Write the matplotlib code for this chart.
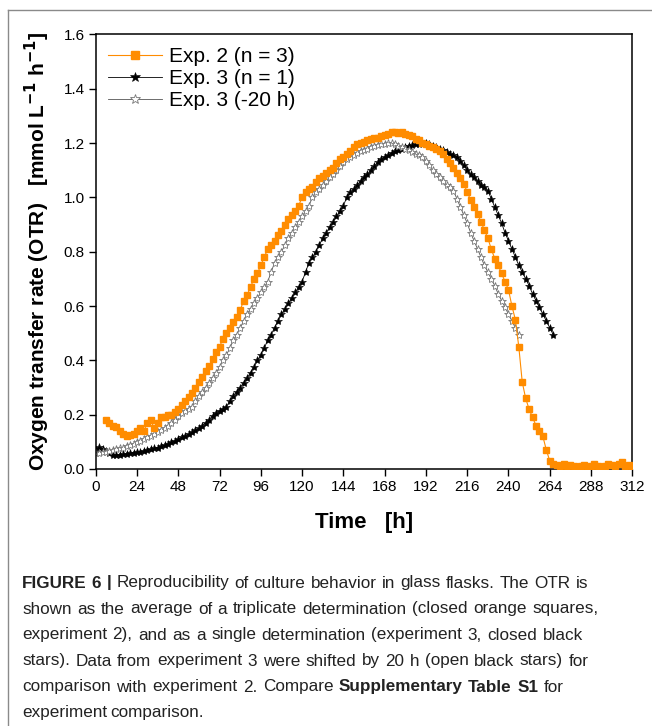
import matplotlib
matplotlib.use("Agg")
import matplotlib.pyplot as plt
from matplotlib.lines import Line2D
import numpy as np

# ---------------- DATA ----------------
# Exp. 2, average of triplicate, every 2 h from 6 h to 312 h
t_exp2 = list(range(6, 313, 2))
otr_exp2 = [
    0.18, 0.17, 0.16, 0.155, 0.14, 0.13, 0.12, 0.125, 0.13, 0.14,
    0.15, 0.14, 0.17, 0.18, 0.15, 0.17, 0.19, 0.19, 0.20, 0.20,
    0.21, 0.22, 0.235, 0.25, 0.265, 0.28, 0.30, 0.32, 0.34, 0.36,
    0.38, 0.405, 0.43, 0.45, 0.48, 0.50, 0.52, 0.54, 0.56, 0.585,
    0.62, 0.64, 0.67, 0.70, 0.72, 0.75, 0.78, 0.81, 0.825, 0.84,
    0.86, 0.875, 0.90, 0.92, 0.935, 0.95, 0.97, 1.00, 1.02, 1.03,
    1.04, 1.055, 1.07, 1.08, 1.09, 1.10, 1.11, 1.125, 1.14, 1.15,
    1.16, 1.17, 1.185, 1.195, 1.20, 1.205, 1.21, 1.215, 1.22, 1.22,
    1.225, 1.23, 1.235, 1.24, 1.24, 1.238, 1.24, 1.235, 1.23, 1.225,
    1.215, 1.21, 1.20, 1.195, 1.19, 1.185, 1.18, 1.17, 1.16, 1.14,
    1.125, 1.11, 1.09, 1.07, 1.05, 1.02, 0.99, 0.965, 0.94, 0.91,
    0.88, 0.85, 0.81, 0.775, 0.75, 0.72, 0.69, 0.66, 0.60, 0.55,
    0.45, 0.32, 0.26, 0.22, 0.19, 0.16, 0.14, 0.12, 0.07, 0.03,
    0.02, 0.015, 0.01, 0.02, 0.01, 0.015, 0.01, 0.005, 0.01, 0.015,
    0.005, 0.01, 0.02, 0.01, 0.005, 0.01, 0.02, 0.015, 0.01, 0.02,
    0.025, 0.01, 0.015, 0.01,
]

# Exp. 3, single determination, every 2 h from 0 h to 266 h
t_exp3 = list(range(0, 267, 2))
otr_exp3 = [
    0.07, 0.082, 0.075, 0.065, 0.058, 0.052, 0.050, 0.052, 0.054, 0.055,
    0.058, 0.060, 0.062, 0.064, 0.067, 0.070, 0.073, 0.076, 0.079, 0.083,
    0.088, 0.093, 0.098, 0.104, 0.110, 0.116, 0.122, 0.128, 0.135, 0.142,
    0.150, 0.160, 0.170, 0.182, 0.196, 0.207, 0.215, 0.222, 0.230, 0.250,
    0.270, 0.285, 0.300, 0.318, 0.335, 0.355, 0.375, 0.400, 0.420, 0.445,
    0.475, 0.495, 0.520, 0.545, 0.570, 0.590, 0.610, 0.630, 0.650, 0.670,
    0.690, 0.725, 0.760, 0.780, 0.800, 0.825, 0.850, 0.870, 0.890, 0.910,
    0.930, 0.950, 0.970, 1.000, 1.020, 1.030, 1.045, 1.060, 1.075, 1.085,
    1.100, 1.115, 1.130, 1.140, 1.150, 1.155, 1.165, 1.170, 1.175, 1.180,
    1.187, 1.190, 1.192, 1.195, 1.198, 1.200, 1.200, 1.195, 1.190, 1.185,
    1.180, 1.175, 1.168, 1.160, 1.155, 1.150, 1.135, 1.120, 1.100, 1.085,
    1.075, 1.060, 1.045, 1.040, 1.025, 0.995, 0.965, 0.935, 0.905, 0.870,
    0.840, 0.810, 0.780, 0.750, 0.725, 0.700, 0.675, 0.645, 0.620, 0.595,
    0.570, 0.545, 0.520, 0.495,
]
shift_h = 20

x_ticks = list(range(0, 313, 24))
y_ticks = [0.0, 0.2, 0.4, 0.6, 0.8, 1.0, 1.2, 1.4, 1.6]

labels = ["Exp. 2 (n = 3)", "Exp. 3 (n = 1)", "Exp. 3 (-20 h)"]

caption_lines = [
    [("FIGURE 6 |", "bold"), ("Reproducibility of culture behavior in glass flasks. The OTR is", "normal")],
    [("shown as the average of a triplicate determination (closed orange squares,", "normal")],
    [("experiment 2), and as a single determination (experiment 3, closed black", "normal")],
    [("stars). Data from experiment 3 were shifted by 20 h (open black stars) for", "normal")],
    [("comparison with experiment 2. Compare", "normal"), ("Supplementary Table S1", "bold"), ("for", "normal")],
    [("experiment comparison.", "normal")],
]
# right end (px) of each caption line in the reference, None = natural width
caption_ends = [588, 632, 610, 603, 607, None]

# ---------------- PLOT ----------------
plt.rcParams['font.family'] = ['Liberation Sans', 'DejaVu Sans']

fig = plt.figure(figsize=(6.52, 7.26), dpi=100)
ax = fig.add_axes([0.1468, 0.354, 0.823, 0.5985])

t3 = np.array(t_exp3, dtype=float)
v3 = np.array(otr_exp3)
mask = t3 >= shift_h

orange = "#FF8C00"
ax.plot(t_exp2, otr_exp2, color=orange, lw=0.8, marker="s", ms=5,
        mec=orange, mfc=orange, label=labels[0], zorder=3)
ax.plot(t3, v3, color="black", lw=0.6, marker="*", ms=6,
        mec="black", mfc="black", mew=0.4, label=labels[1], zorder=2)
ax.plot(t3[mask] - shift_h, v3[mask], color="#555555", lw=0.6, marker="*",
        ms=6, mec="#777777", mfc="white", mew=0.6, label=labels[2], zorder=2)

ax.set_xlim(0, 312)
ax.set_ylim(0, 1.6)
ax.set_xticks(x_ticks)
ax.set_yticks(y_ticks)
ax.set_yticklabels([f"{v:.1f}" for v in y_ticks])
ax.tick_params(direction="out", length=5, width=1, labelsize=11, pad=3)
for s in ax.spines.values():
    s.set_linewidth(1.1)

ax.set_xlabel("Time   [h]", fontsize=16, fontweight="bold", labelpad=13)
ax.set_ylabel("Oxygen transfer rate (OTR)   [mmol L$^{\\mathbf{-1}}$ h$^{\\mathbf{-1}}$]",
              fontsize=15, fontweight="bold", labelpad=8)

ax.legend(loc="upper left", frameon=False, fontsize=15, handlelength=2.6,
          handletextpad=0.3, labelspacing=0.15, borderaxespad=0.4,
          borderpad=0.2, markerscale=1.2)

# gray frame around the panel
fig.add_artist(Line2D([8 / 652, 1.0], [1 - 10 / 726, 1 - 10 / 726],
                      transform=fig.transFigure, color="#8a8a8a", lw=1))
fig.add_artist(Line2D([8 / 652, 8 / 652], [0.0, 1 - 10 / 726],
                      transform=fig.transFigure, color="#8a8a8a", lw=1))

# caption, word by word; spacing stretched a little toward the reference line ends
fig.canvas.draw()
renderer = fig.canvas.get_renderer()
W = fig.bbox.width
cap_size = 12.3
y_px = 583
for line, end_px in zip(caption_lines, caption_ends):
    words = [(w, weight) for txt, weight in line for w in txt.split(" ")]
    arts = []
    widths = []
    for w, weight in words:
        t = fig.text(0, 1 - y_px / 726, w, fontsize=cap_size, fontweight=weight,
                     va="center", ha="left", color="#222222")
        arts.append(t)
        widths.append(t.get_window_extent(renderer=renderer).width)
    space = 3.4
    if end_px is not None and len(words) > 1:
        want = (end_px - 22 - sum(widths)) / (len(words) - 1)
        space = max(space, min(want, 5.5))
    x = 22.0
    for t, wd in zip(arts, widths):
        t.set_x(x / W)
        x += wd + space
    y_px += 26

fig.savefig("out.png", dpi=100)
